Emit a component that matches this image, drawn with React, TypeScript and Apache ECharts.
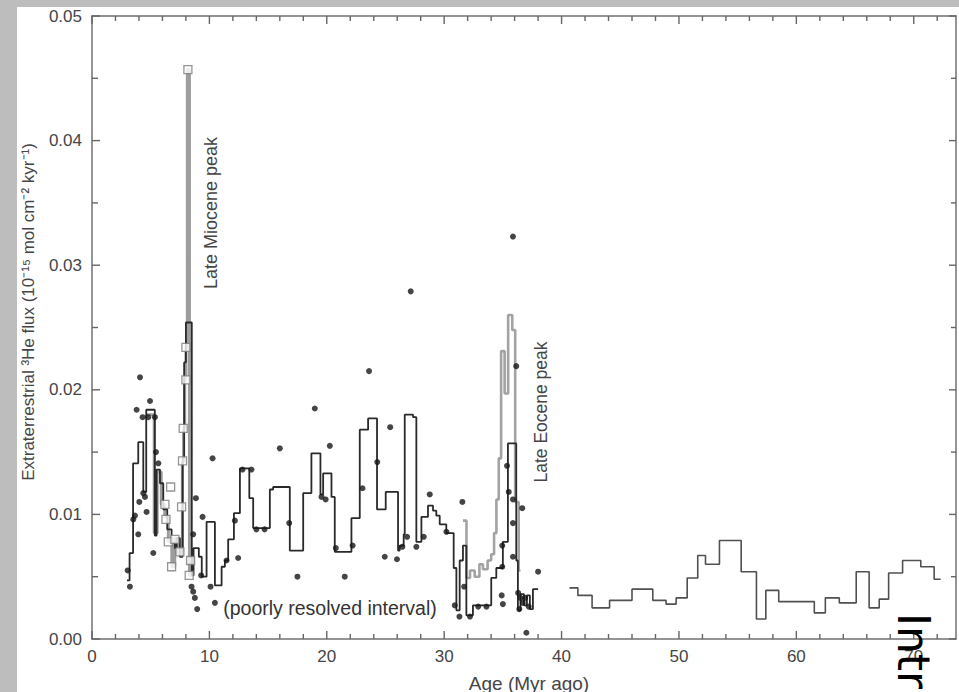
import React, { useEffect, useRef } from 'react';
import * as echarts from 'echarts';

// ---- Data (age in Myr ago, extraterrestrial 3He flux) ----
// Black step record, younger section (level starts at the given age)
const blackStepEarly: [number, number][] = [
  [2.98, 0.0047], [3.2, 0.0069], [3.5, 0.0141], [3.94, 0.0158], [4.37, 0.0118],
  [4.62, 0.0184], [5.35, 0.0083], [5.5, 0.0136], [5.79, 0.0125], [6.07, 0.0104],
  [6.41, 0.0088], [6.78, 0.0077], [7.06, 0.0073], [7.21, 0.0081], [7.49, 0.0066],
  [7.72, 0.0145], [7.85, 0.0222], [8.0, 0.0254], [8.5, 0.0051], [8.65, 0.0073],
  [9.1, 0.0066], [9.35, 0.005], [9.76, 0.0094], [10.47, 0.0043], [11.04, 0.0058],
  [11.32, 0.0063], [11.6, 0.008], [12.09, 0.0101], [12.6, 0.0137], [13.4, 0.0113],
  [13.73, 0.0089], [15.15, 0.012], [15.43, 0.0122], [16.85, 0.0071], [17.99, 0.0117],
  [18.69, 0.0149], [19.46, 0.0116], [19.69, 0.0133], [20.4, 0.0114], [20.68, 0.007],
  [22.1, 0.0097], [22.81, 0.0168], [23.52, 0.0177], [24.28, 0.0104], [25.02, 0.0118],
  [26.07, 0.0071], [26.21, 0.0075], [26.55, 0.0084], [26.64, 0.018], [27.35, 0.0178],
  [27.63, 0.0078], [28.06, 0.0098], [28.62, 0.0107], [29.05, 0.0103], [29.33, 0.0099],
  [29.62, 0.0092], [30.18, 0.0085], [30.81, 0.0057], [31.04, 0.0023], [31.32, 0.0063],
  [31.6, 0.0075], [31.89, 0.0019], [32.45, 0.0027], [34.01, 0.0049], [34.44, 0.0057],
  [35.0, 0.0078], [35.43, 0.0157], [36.14, 0.0063], [36.28, 0.0023], [36.5, 0.0036],
  [36.8, 0.0027], [37.05, 0.0035], [37.3, 0.0024], [37.56, 0.004], [38.0, 0.004],
];

// Black step record, older section
const blackStepLate: [number, number][] = [
  [40.68, 0.0041], [41.39, 0.0035], [42.6, 0.0025], [44.09, 0.0031], [46.0, 0.004],
  [47.77, 0.0031], [48.9, 0.0028], [49.76, 0.0033], [50.7, 0.0049], [51.6, 0.0067],
  [52.26, 0.006], [53.45, 0.0079], [55.3, 0.0054], [56.6, 0.0016], [57.4, 0.0039],
  [58.5, 0.003], [61.53, 0.0021], [62.47, 0.0033], [63.66, 0.0029], [65.1, 0.0054],
  [66.2, 0.0025], [67.06, 0.0032], [67.86, 0.0053], [69.05, 0.0063], [70.6, 0.0058],
  [71.74, 0.0048], [72.3, 0.0048],
];

// Grey step record: Late Miocene peak
const grayStepMiocene: [number, number][] = [
  [4.6, 0.018], [5.3, 0.0085], [5.55, 0.0134], [5.9, 0.0108], [6.2, 0.0098],
  [6.5, 0.0078], [6.8, 0.0058], [7.05, 0.0081], [7.3, 0.0068], [7.55, 0.007],
  [7.7, 0.0142], [7.8, 0.0169], [7.9, 0.0208], [8.0, 0.0235], [8.12, 0.0457],
  [8.3, 0.0051], [8.6, 0.0051],
];

// Grey step record: Late Eocene peak
const grayStepEocene: [number, number][] = [
  [31.6, 0.0095], [31.9, 0.0049], [32.2, 0.0055], [32.6, 0.005], [33.0, 0.006],
  [33.3, 0.0056], [33.7, 0.0063], [34.0, 0.0068], [34.25, 0.0085], [34.45, 0.0112],
  [34.65, 0.0145], [34.85, 0.0231], [35.15, 0.0197], [35.45, 0.026], [35.8, 0.0248],
  [36.05, 0.011], [36.35, 0.0055], [36.5, 0.0055],
];

// Open squares
const squarePoints: [number, number][] = [
  [8.17, 0.0457], [8.0, 0.0234], [8.0, 0.0208], [7.77, 0.0169], [7.71, 0.0143],
  [7.63, 0.0106], [7.49, 0.007], [8.28, 0.0051], [6.7, 0.0122], [6.21, 0.0108],
  [6.3, 0.0096], [6.5, 0.0078], [7.06, 0.008], [6.78, 0.0058], [8.4, 0.0063],
];

// Individual measurements (dots)
const dotPoints: [number, number][] = [
  [3.04, 0.0055], [3.23, 0.0042], [3.52, 0.0096], [3.66, 0.0099], [3.8, 0.0184],
  [3.94, 0.0084], [4.03, 0.011], [4.09, 0.021], [4.31, 0.0178], [4.37, 0.0117],
  [4.51, 0.0114], [4.65, 0.0102], [4.79, 0.0178], [4.94, 0.0191], [5.22, 0.0069],
  [5.36, 0.0178], [5.45, 0.015], [5.65, 0.0141], [8.48, 0.0042], [8.62, 0.0038],
  [8.76, 0.0033], [8.96, 0.0024], [8.62, 0.0084], [8.85, 0.0113], [9.3, 0.0051],
  [9.42, 0.0098], [10.1, 0.0042], [10.27, 0.0145], [10.47, 0.0029], [11.46, 0.0063],
  [12.17, 0.0095], [12.45, 0.0065], [12.82, 0.0136], [13.58, 0.0136], [14.0, 0.0088],
  [14.7, 0.0088], [16.0, 0.0153], [16.8, 0.0093], [17.5, 0.005], [18.98, 0.0185],
  [19.55, 0.0114], [19.9, 0.0112], [20.26, 0.0155], [20.77, 0.0073], [21.53, 0.005],
  [22.2, 0.0075], [23.04, 0.0121], [23.6, 0.0215], [24.3, 0.0142], [24.94, 0.0066],
  [25.4, 0.017], [25.98, 0.0064], [26.44, 0.0074], [26.84, 0.0082], [27.15, 0.0279],
  [27.63, 0.0074], [28.26, 0.0082], [28.77, 0.0116], [30.19, 0.0086], [30.9, 0.0027],
  [31.3, 0.0018], [31.55, 0.011], [31.7, 0.0042], [32.2, 0.0018], [32.9, 0.0026],
  [33.6, 0.0026], [34.95, 0.0075], [34.95, 0.0058], [34.9, 0.0035], [35.0, 0.0028],
  [35.35, 0.0139], [35.5, 0.0118], [35.86, 0.0323], [35.86, 0.0112], [35.86, 0.0093],
  [35.86, 0.0066], [36.14, 0.0219], [36.65, 0.0105], [36.3, 0.0037], [36.5, 0.0033],
  [36.7, 0.0029], [36.9, 0.0033], [36.4, 0.0024], [37.2, 0.0026], [37.0, 0.0005],
  [38.0, 0.0054],
];

// Axis ranges and tick values
const X_MIN = 0;
const X_MAX = 73.6;
const Y_MIN = 0;
const Y_MAX = 0.05;
const xMajorTicks = [0, 10, 20, 30, 40, 50, 60, 70];
const xMinorTicks = [2, 4, 6, 8, 12, 14, 16, 18, 22, 24, 26, 28, 32, 34, 36, 38, 42, 44, 46, 48, 52, 54, 56, 58, 62, 64, 66, 68, 72];
const yMajorTicks = [0, 0.01, 0.02, 0.03, 0.04, 0.05];
const yMinorTicks = [0.005, 0.015, 0.025, 0.035, 0.045];

const FONT = '"Liberation Sans", Arial, Helvetica, sans-serif';
const TEXT_COLOR = '#454545';
const AXIS_COLOR = '#707070';
const TICK_COLOR = '#666666';

export default function App() {
  const ref = useRef<HTMLDivElement>(null);

  useEffect(() => {
    if (!ref.current) return;
    const chart = echarts.init(ref.current, null, { renderer: 'svg' });

    const axisLine = { show: true, onZero: false, lineStyle: { color: AXIS_COLOR, width: 1.5 } };

    // Inward tick marks on all four sides: [x, y, dirX, dirUp, length]
    const MAJOR = 8;
    const MINOR = 5;
    const tickData: number[][] = [];
    xMajorTicks.forEach((v) => {
      tickData.push([v, Y_MIN, 0, 1, MAJOR]);
      tickData.push([v, Y_MAX, 0, -1, MAJOR]);
    });
    xMinorTicks.forEach((v) => {
      tickData.push([v, Y_MIN, 0, 1, MINOR]);
      tickData.push([v, Y_MAX, 0, -1, MINOR]);
    });
    yMajorTicks.forEach((v) => {
      tickData.push([X_MIN, v, 1, 0, MAJOR]);
      tickData.push([X_MAX, v, -1, 0, MAJOR - 1]);
    });
    yMinorTicks.forEach((v) => {
      tickData.push([X_MIN, v, 1, 0, MINOR + 1]);
      tickData.push([X_MAX, v, -1, 0, MINOR]);
    });

    const option: any = {
      animation: false,
      backgroundColor: '#ffffff',
      grid: { left: 92, right: 2, top: 16, bottom: 53, containLabel: false },
      xAxis: [
        {
          type: 'value', position: 'bottom', min: X_MIN, max: X_MAX, interval: 10,
          splitLine: { show: false }, axisLine, axisTick: { show: false },
          axisLabel: {
            show: true, margin: 9, color: TEXT_COLOR, fontSize: 17, fontFamily: FONT,
            formatter: (v: number) => (Math.abs(v % 10) < 1e-6 ? String(Math.round(v)) : ''),
          },
        },
        {
          type: 'value', position: 'top', min: X_MIN, max: X_MAX, interval: 10,
          splitLine: { show: false }, axisLine, axisTick: { show: false }, axisLabel: { show: false },
        },
      ],
      yAxis: [
        {
          type: 'value', position: 'left', min: Y_MIN, max: Y_MAX, interval: 0.01,
          splitLine: { show: false }, axisLine, axisTick: { show: false },
          axisLabel: {
            show: true, margin: 10, color: TEXT_COLOR, fontSize: 17, fontFamily: FONT,
            formatter: (v: number) => v.toFixed(2),
          },
        },
        {
          type: 'value', position: 'right', min: Y_MIN, max: Y_MAX, interval: 0.01,
          splitLine: { show: false }, axisLine, axisTick: { show: false }, axisLabel: { show: false },
        },
      ],
      series: [
        {
          type: 'custom', xAxisIndex: 0, yAxisIndex: 0, silent: true, clip: false, z: 1,
          data: tickData,
          dimensions: ['x', 'y', 'dx', 'dy', 'len'],
          encode: { x: 0, y: 1 },
          renderItem: (_params: any, api: any) => {
            const p = api.coord([api.value(0), api.value(1)]);
            const dx = api.value(2);
            const dy = api.value(3);
            const len = api.value(4);
            return {
              type: 'line',
              shape: { x1: p[0], y1: p[1], x2: p[0] + dx * len, y2: p[1] - dy * len },
              style: { stroke: TICK_COLOR, lineWidth: 1.4 },
            };
          },
        },
        {
          type: 'line', xAxisIndex: 0, yAxisIndex: 0, data: grayStepMiocene, step: 'end',
          symbol: 'none', silent: true, z: 2, lineStyle: { color: '#9d9d9d', width: 3 },
        },
        {
          type: 'line', xAxisIndex: 0, yAxisIndex: 0, data: grayStepEocene, step: 'end',
          symbol: 'none', silent: true, z: 2, lineStyle: { color: '#a3a3a3', width: 2.6 },
        },
        {
          type: 'line', xAxisIndex: 0, yAxisIndex: 0, data: blackStepEarly, step: 'end',
          symbol: 'none', silent: true, z: 3, lineStyle: { color: '#2a2a2a', width: 1.8 },
        },
        {
          type: 'line', xAxisIndex: 0, yAxisIndex: 0, data: blackStepLate, step: 'end',
          symbol: 'none', silent: true, z: 3, lineStyle: { color: '#505050', width: 1.6 },
        },
        {
          type: 'scatter', xAxisIndex: 0, yAxisIndex: 0, data: squarePoints,
          symbol: 'rect', symbolSize: 8, silent: true, z: 4,
          itemStyle: { color: '#ffffff', borderColor: '#7a7a7a', borderWidth: 1.3 },
        },
        {
          type: 'scatter', xAxisIndex: 0, yAxisIndex: 0, data: dotPoints,
          symbol: 'circle', symbolSize: 6, silent: true, z: 5, itemStyle: { color: '#161616' },
        },
      ],
      graphic: [
        { type: 'rect', silent: true, z: 100, shape: { x: 0, y: 0, width: 959, height: 7 }, style: { fill: '#bdbdbd' } },
        { type: 'rect', silent: true, z: 100, shape: { x: 0, y: 0, width: 17, height: 692 }, style: { fill: '#bdbdbd' } },
        {
          type: 'text', silent: true, z: 100, x: 28, y: 312, rotation: Math.PI / 2,
          style: {
            text: 'Extraterrestrial \u00B3He flux (10\u207B\u00B9\u2075 mol cm\u207B\u00B2 kyr\u207B\u00B9)',
            font: `17px ${FONT}`, fill: TEXT_COLOR,
            align: 'center', verticalAlign: 'middle', textAlign: 'center', textVerticalAlign: 'middle',
          },
        },
        {
          type: 'text', silent: true, z: 100, x: 529, y: 683,
          style: {
            text: 'Age (Myr ago)', font: `19px ${FONT}`, fill: TEXT_COLOR,
            align: 'center', verticalAlign: 'middle', textAlign: 'center', textVerticalAlign: 'middle',
          },
        },
        {
          type: 'text', silent: true, z: 100, x: 330, y: 608,
          style: {
            text: '(poorly resolved interval)', font: `19.5px ${FONT}`, fill: '#333333',
            align: 'center', verticalAlign: 'middle', textAlign: 'center', textVerticalAlign: 'middle',
          },
        },
        {
          type: 'text', silent: true, z: 100, x: 211, y: 213, rotation: Math.PI / 2,
          style: {
            text: 'Late Miocene peak', font: `18px ${FONT}`, fill: TEXT_COLOR,
            align: 'center', verticalAlign: 'middle', textAlign: 'center', textVerticalAlign: 'middle',
          },
        },
        {
          type: 'text', silent: true, z: 100, x: 541, y: 412, rotation: Math.PI / 2,
          style: {
            text: 'Late Eocene peak', font: `17.5px ${FONT}`, fill: TEXT_COLOR,
            align: 'center', verticalAlign: 'middle', textAlign: 'center', textVerticalAlign: 'middle',
          },
        },
        {
          type: 'text', silent: true, z: 110, x: 913, y: 613, rotation: -Math.PI / 2,
          style: {
            text: 'Intr', font: '44px "DejaVu Sans", sans-serif', fill: '#000000',
            align: 'left', verticalAlign: 'middle', textAlign: 'left', textVerticalAlign: 'middle',
          },
        },
      ],
    };

    chart.setOption(option);
    return () => chart.dispose();
  }, []);

  return (
    <div
      ref={ref}
      style={{ position: 'absolute', left: 0, top: 0, width: 959, height: 692, background: '#ffffff' }}
    />
  );
}
